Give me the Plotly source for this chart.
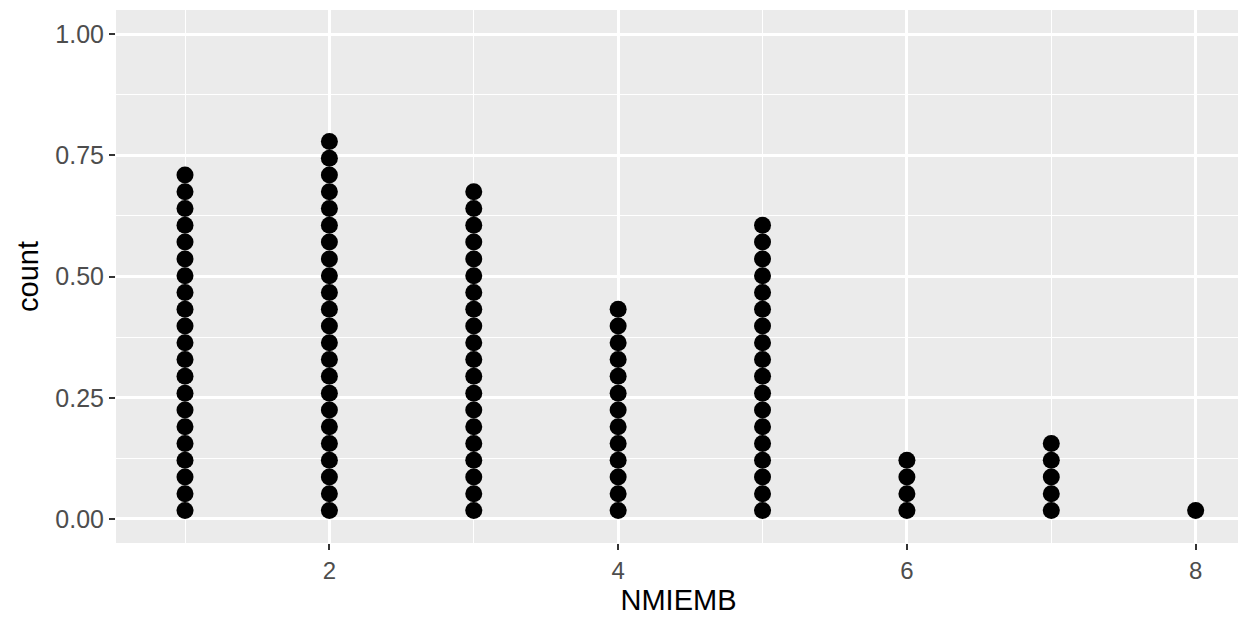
import plotly.graph_objects as go

# Data: dot counts per NMIEMB value
nmiemb = [1, 2, 3, 4, 5, 6, 7, 8]
counts = [21, 23, 20, 13, 18, 4, 5, 1]

# stacking step for dots on the y axis (dotplot layout)
dot_step = 0.0346

xs, ys = [], []
for x, c in zip(nmiemb, counts):
    for k in range(c):
        xs.append(x)
        ys.append(dot_step / 2 + k * dot_step)

fig = go.Figure()
fig.add_trace(go.Scatter(
    x=xs, y=ys, mode="markers",
    marker=dict(size=17, color="black", line=dict(width=0)),
    hoverinfo="skip", showlegend=False,
))

font_family = "Liberation Sans, Arial, sans-serif"
fig.update_layout(
    width=1246, height=617,
    margin=dict(l=108, r=13, t=2, b=82),
    paper_bgcolor="white",
    plot_bgcolor="#EBEBEB",
    font=dict(family=font_family, color="#4D4D4D"),
    xaxis=dict(
        range=[0.522, 8.314],
        tickmode="array", tickvals=[2, 4, 6, 8], ticktext=["2", "4", "6", "8"],
        ticks="outside", ticklen=6, tickwidth=2, tickcolor="#333333",
        tickfont=dict(size=24, color="#4D4D4D"),
        showgrid=True, gridcolor="white", gridwidth=2.5,
        minor=dict(tickvals=[1, 3, 5, 7], showgrid=True, gridcolor="white", gridwidth=1.2),
        zeroline=False, showline=False,
        title=dict(text="NMIEMB", font=dict(size=29, color="black"), standoff=4),
    ),
    yaxis=dict(
        range=[-0.0495, 1.0495],
        tickmode="array", tickvals=[0, 0.25, 0.5, 0.75, 1.0],
        ticktext=["0.00", "0.25", "0.50", "0.75", "1.00"],
        ticks="outside", ticklen=6, tickwidth=2, tickcolor="#333333",
        tickfont=dict(size=25, color="#4D4D4D"),
        showgrid=True, gridcolor="white", gridwidth=2.5,
        minor=dict(tickvals=[0.125, 0.375, 0.625, 0.875], showgrid=True, gridcolor="white", gridwidth=1.2),
        zeroline=False, showline=False,
        title=dict(text="count", font=dict(size=29, color="black"), standoff=8),
    ),
)

fig.write_html("out.html")
